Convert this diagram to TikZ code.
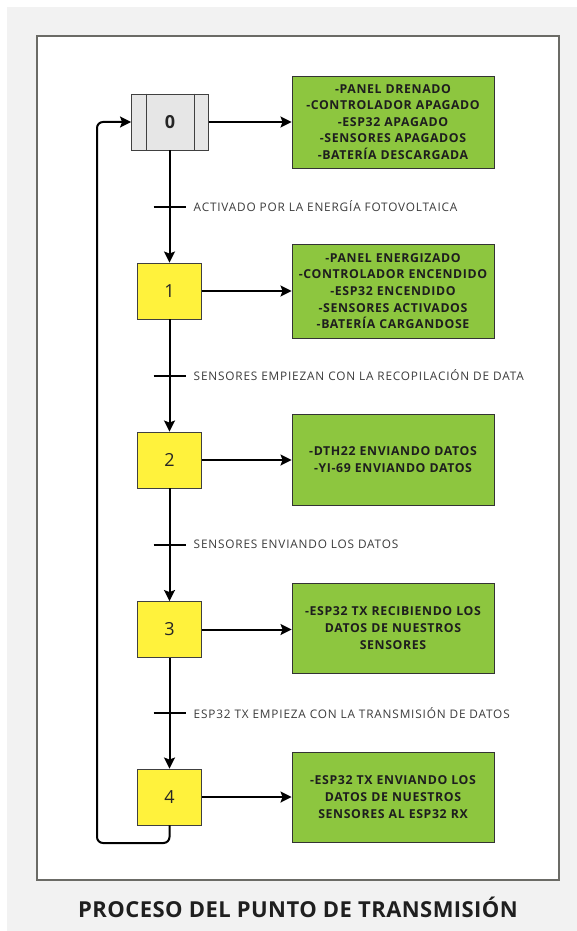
\documentclass[tikz,border=0pt]{standalone}
\usepackage{fontspec}
\setmainfont{Open Sans}
\usetikzlibrary{arrows.meta,calc}
\definecolor{pagegrey}{HTML}{F2F2F2}
\definecolor{framegrey}{HTML}{6B6B66}
\definecolor{stategrey}{HTML}{E6E6E6}
\definecolor{stateyellow}{HTML}{FFF23C}
\definecolor{infogreen}{HTML}{8DC63F}
\definecolor{textdark}{HTML}{1E1E1E}
\definecolor{labelgrey}{HTML}{3C3C3C}
\tikzset{
  statebox/.style={draw=black!75, line width=0.9pt, minimum width=64pt, minimum height=56pt,
    inner sep=0pt, fill=stateyellow, font=\fontsize{18}{20}\selectfont, text=black!85},
  initbox/.style={statebox, minimum width=77pt, fill=stategrey, font=\fontsize{18}{20}\selectfont\bfseries},
  infobox/.style={draw=black!80, line width=0.9pt, fill=infogreen, minimum width=202pt,
    text width=198pt, align=center, inner sep=0pt, text=textdark,
    font=\fontsize{12.3}{16.6}\selectfont\bfseries\addfontfeature{LetterSpace=5}},
  flow/.style={line width=2pt, -{Stealth[length=11pt,width=11pt,inset=2pt]}},
  tick/.style={line width=2pt},
  translabel/.style={anchor=west, text=labelgrey, inner sep=0pt,
    font=\fontsize{11.8}{13}\selectfont\addfontfeature{LetterSpace=7}}
}
\begin{document}
\begin{tikzpicture}[x=1pt,y=-1pt]
  \useasboundingbox (0,0) rectangle (577,931);
  \fill[pagegrey] (7,7) rectangle (577,931);
  \draw[framegrey, line width=1.4pt, fill=white] (37,36) rectangle (559,880);

  % states of the process
  \node[initbox] (s0) at (170,122) {0};
  \node[statebox] (s1) at (169.5,291) {1};
  \node[statebox] (s2) at (169.5,460) {2};
  \node[statebox] (s3) at (169.5,629.5) {3};
  \node[statebox] (s4) at (169.5,797) {4};
  \draw[black!75, line width=0.9pt] ($(s0.north west)+(15,0)$) -- ($(s0.south west)+(15,0)$)
                                    ($(s0.north east)+(-15,0)$) -- ($(s0.south east)+(-15,0)$);

  % description of each state
  \node[infobox, minimum height=92pt] (g0) at (393,122) {-PANEL DRENADO\\-CONTROLADOR APAGADO\\-ESP32 APAGADO\\-SENSORES APAGADOS\\-BATERÍA DESCARGADA};
  \node[infobox, minimum height=94pt] (g1) at (393,291) {-PANEL ENERGIZADO\\-CONTROLADOR ENCENDIDO\\-ESP32 ENCENDIDO\\-SENSORES ACTIVADOS\\-BATERÍA CARGANDOSE};
  \node[infobox, minimum height=91pt] (g2) at (393,459.5) {-DTH22 ENVIANDO DATOS\\-YI-69 ENVIANDO DATOS};
  \node[infobox, minimum height=90pt] (g3) at (393,628) {-ESP32 TX RECIBIENDO LOS\\DATOS DE NUESTROS\\SENSORES};
  \node[infobox, minimum height=90pt] (g4) at (393,797) {-ESP32 TX ENVIANDO LOS\\DATOS DE NUESTROS\\SENSORES AL ESP32 RX};

  \foreach \i in {0,...,4} {
    \draw[flow] (s\i.east) -- (g\i.west |- s\i.east);
  }

  % transitions between states
  \draw[flow] (s0.south -| s1.north) -- coordinate[midway] (t1) (s1.north);
  \draw[flow] (s1.south) -- coordinate[midway] (t2) (s2.north);
  \draw[flow] (s2.south) -- coordinate[midway] (t3) (s3.north);
  \draw[flow] (s3.south) -- coordinate[midway] (t4) (s4.north);
  \foreach \t in {t1,t2,t3,t4} {
    \draw[tick] ($(\t)+(-16,0)$) -- ($(\t)+(16,0)$);
  }
  \node[translabel] (l1) at ($(t1)+(24,0)$) {ACTIVADO POR LA ENERGÍA FOTOVOLTAICA};
  \node[translabel] (l2) at ($(t2)+(24,0)$) {SENSORES EMPIEZAN CON LA RECOPILACIÓN DE DATA};
  \node[translabel] (l3) at ($(t3)+(24,0)$) {SENSORES ENVIANDO LOS DATOS};
  \node[translabel] (l4) at ($(t4)+(24,0)$) {ESP32 TX EMPIEZA CON LA TRANSMISIÓN DE DATOS};

  % return to the initial state
  \coordinate (r1) at (169.5,843);
  \coordinate (r2) at (97,843);
  \draw[flow, rounded corners=6pt] (s4.south) -- (r1) -- (r2) -- (r2 |- s0.west) -- (s0.west);

  \node[font=\fontsize{22}{26}\selectfont\bfseries\addfontfeature{LetterSpace=2}, text=black!88] (title) at (298,907)
    {PROCESO DEL PUNTO DE TRANSMISIÓN};
\end{tikzpicture}
\end{document}
